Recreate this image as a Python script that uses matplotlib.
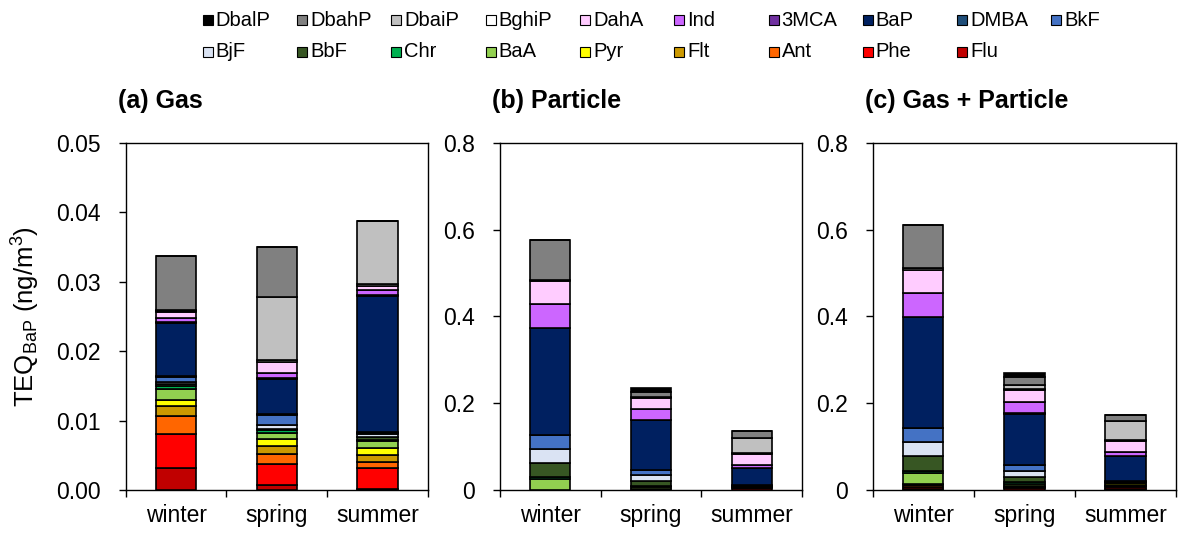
import numpy as np
import matplotlib.pyplot as plt
from matplotlib.patches import Rectangle

plt.rcParams['font.family'] = ['Liberation Sans', 'DejaVu Sans']
plt.rcParams['mathtext.fontset'] = 'custom'
plt.rcParams['mathtext.rm'] = 'Liberation Sans'
plt.rcParams['mathtext.it'] = 'Liberation Sans:italic'

seasons = ['winter', 'spring', 'summer']

# stacking order, bottom to top
species = ['Flu', 'Phe', 'Ant', 'Flt', 'Pyr', 'BaA', 'Chr', 'BbF', 'BjF', 'BkF',
           'DMBA', 'BaP', '3MCA', 'Ind', 'DahA', 'BghiP', 'DbaiP', 'DbahP', 'DbalP']
colors = ['#C00000', '#FF0000', '#FF6600', '#CC9900', '#FFFF00', '#92D050', '#00B050',
          '#375623', '#DAE3F3', '#4472C4', '#1F4E79', '#002060', '#7030A0', '#CC66FF',
          '#FFCCFF', '#FFFFFF', '#C0C0C0', '#808080', '#000000']

# TEQ_BaP (ng/m3), one value per species in the order above
gas_winter = [0.0031, 0.0049, 0.0027, 0.0014, 0.0009, 0.0015, 0.0005, 0.0003, 0.00025, 0.0007,
              0.00015, 0.0076, 0.00015, 0.0006, 0.0009, 0.00015, 0.0001, 0.0078, 0.0]
gas_spring = [0.0007, 0.0031, 0.0014, 0.0011, 0.0010, 0.0009, 0.0004, 0.00025, 0.0005, 0.0014,
              0.00015, 0.0051, 0.0001, 0.0008, 0.0015, 0.00025, 0.0092, 0.0072, 0.0]
gas_summer = [0.0002, 0.0029, 0.0009, 0.0010, 0.0011, 0.0009, 0.0002, 0.0005, 0.00035, 0.0002,
              0.00015, 0.0196, 0.0001, 0.0007, 0.0006, 0.0003, 0.0090, 0.0, 0.0]

part_winter = [0.0, 0.0, 0.0, 0.0005, 0.0005, 0.024, 0.004, 0.033, 0.033, 0.032,
               0.0, 0.247, 0.0, 0.0555, 0.051, 0.004, 0.0, 0.0925, 0.0]
part_spring = [0.0, 0.0005, 0.0003, 0.0005, 0.0005, 0.004, 0.003, 0.012, 0.014, 0.0114,
               0.0, 0.114, 0.0, 0.026, 0.0258, 0.0023, 0.0007, 0.0103, 0.010]
part_summer = [0.001, 0.003, 0.001, 0.002, 0.002, 0.0008, 0.0005, 0.0005, 0.0005, 0.0003,
               0.0, 0.0385, 0.001, 0.007, 0.0251, 0.003, 0.0333, 0.0154, 0.0]

gas = np.array([gas_winter, gas_spring, gas_summer]).T
part = np.array([part_winter, part_spring, part_summer]).T
total = gas + part

titles = ['(a) Gas', '(b) Particle', '(c) Gas + Particle']
ylims = [0.05, 0.8, 0.8]
yticks = [[0, 0.01, 0.02, 0.03, 0.04, 0.05], [0, 0.2, 0.4, 0.6, 0.8], [0, 0.2, 0.4, 0.6, 0.8]]
yticklabels = [['0.00', '0.01', '0.02', '0.03', '0.04', '0.05'],
               ['0', '0.2', '0.4', '0.6', '0.8'], ['0', '0.2', '0.4', '0.6', '0.8']]

W, H = 1178, 536
fig = plt.figure(figsize=(W / 100, H / 100), dpi=100)
boxes = [(125.7, 428), (500, 802), (872.7, 1176)]
top, bot = 142.7, 490

x = np.arange(len(seasons))
for i, data in enumerate([gas, part, total]):
    l, r = boxes[i]
    ax = fig.add_axes([l / W, 1 - bot / H, (r - l) / W, (bot - top) / H])
    bottom = np.zeros(len(seasons))
    for k in range(len(species)):
        ax.bar(x, data[k], 0.4, bottom=bottom, color=colors[k],
               edgecolor='black', linewidth=1.2, zorder=3)
        bottom += data[k]
    ax.set_xlim(-0.5, 2.5)
    ax.set_ylim(0, ylims[i])
    ax.set_yticks(yticks[i])
    ax.set_yticklabels(yticklabels[i])
    ax.set_xticks([-0.5, 0.5, 1.5, 2.5])
    ax.set_xticklabels([])
    ax.set_xticks(x, minor=True)
    ax.set_xticklabels(seasons, minor=True)
    ax.tick_params(axis='x', which='major', direction='out', length=5, width=1)
    ax.tick_params(axis='x', which='minor', length=0, pad=10, labelsize=16.5)
    ax.tick_params(axis='y', direction='out', length=5, width=1, labelsize=16.5, pad=13)
    for s in ax.spines.values():
        s.set_linewidth(1.0)
    ax.text(-8 / (r - l), 1 + (top - 101) / (bot - top), titles[i], transform=ax.transAxes,
            fontsize=18, fontweight='bold', ha='left', va='center')
    if i == 0:
        ax.set_ylabel(r'TEQ$_{\mathrm{BaP}}$ (ng/m$^{3}$)', fontsize=18.5, labelpad=10)

# legend: two rows, reversed stacking order
for k, name in enumerate(species[::-1]):
    row, col = divmod(k, 10)
    cx = 207.7 + 94.3 * col
    cy = 20 + 31.7 * row
    fig.add_artist(Rectangle(((cx - 5) / W, 1 - (cy + 5) / H), 10 / W, 10 / H,
                             transform=fig.transFigure, facecolor=colors[::-1][k],
                             edgecolor='black', linewidth=0.8))
    fig.text((cx + 8) / W, 1 - cy / H, name, fontsize=14.5, va='center', ha='left')

fig.savefig('out.png', dpi=100)
